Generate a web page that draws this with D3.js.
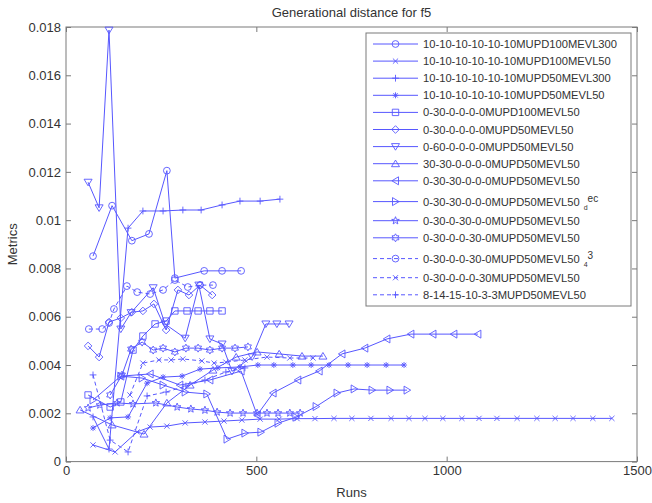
<!DOCTYPE html>
<html><head><meta charset="utf-8">
<script src="https://cdn.jsdelivr.net/npm/d3@7"></script>
<style>body{margin:0;background:#fff}svg{display:block}text{font-family:"Liberation Sans",Arial,sans-serif}</style>
</head><body>
<svg id="c" width="652" height="503"></svg>
<script>
const titleText = "Generational distance for f5";
const xLabel = "Runs";
const yLabel = "Metrics";
const xTicks = [0, 500, 1000, 1500];
const xTickLabels = ["0", "500", "1000", "1500"];
const yTicks = [0, 0.002, 0.004, 0.006, 0.008, 0.01, 0.012, 0.014, 0.016, 0.018];
const yTickLabels = ["0", "0.002", "0.004", "0.006", "0.008", "0.01", "0.012", "0.014", "0.016", "0.018"];

const seriesNames = [
  "10-10-10-10-10-10MUPD100MEVL300",
  "10-10-10-10-10-10MUPD100MEVL50",
  "10-10-10-10-10-10MUPD50MEVL300",
  "10-10-10-10-10-10MUPD50MEVL50",
  "0-30-0-0-0-0MUPD100MEVL50",
  "0-30-0-0-0-0MUPD50MEVL50",
  "0-60-0-0-0-0MUPD50MEVL50",
  "30-30-0-0-0-0MUPD50MEVL50",
  "0-30-30-0-0-0MUPD50MEVL50",
  "0-30-30-0-0-0MUPD50MEVL50",
  "0-30-0-30-0-0MUPD50MEVL50",
  "0-30-0-0-30-0MUPD50MEVL50",
  "0-30-0-0-30-0MUPD50MEVL50",
  "0-30-0-0-0-30MUPD50MEVL50",
  "8-14-15-10-3-3MUPD50MEVL50"
];
const seriesSub = ["", "", "", "", "", "", "", "", "", "d", "", "", "4", "", ""];
const seriesSup = ["", "", "", "", "", "", "", "", "", "ec", "", "", "3", "", ""];
const seriesMarkers = ["o", "x", "+", "*", "s", "d", "v", "^", "<", ">", "p", "h", "o", "x", "+"];
const seriesDashed = [false, false, false, false, false, false, false, false, false, false, false, false, true, true, true];

const runs1 = [71, 121, 173, 218, 265, 286, 363, 410, 460];
const vals1 = [0.00851, 0.0106, 0.00915, 0.00943, 0.01205, 0.0076, 0.0079, 0.0079, 0.0079];
const runs2 = [71, 129, 187, 221, 265, 313, 365, 415, 462, 510, 560, 607, 654, 704, 751, 801, 854, 901, 943, 990, 1040, 1085, 1132, 1185, 1237, 1285, 1332, 1384, 1434];
const vals2 = [0.00069, 0.0004, 0.00123, 0.00143, 0.00147, 0.0016, 0.00164, 0.00168, 0.00172, 0.00176, 0.00176, 0.00178, 0.00178, 0.00179, 0.00179, 0.00179, 0.00179, 0.00179, 0.00179, 0.00179, 0.00179, 0.00179, 0.00179, 0.00179, 0.00179, 0.00179, 0.00179, 0.00179, 0.00179];
const runs3 = [71, 113, 163, 202, 255, 307, 355, 410, 457, 510, 562];
const vals3 = [0.00185, 0.00052, 0.00967, 0.01038, 0.01038, 0.01042, 0.01042, 0.01063, 0.01079, 0.01079, 0.01087];
const runs4 = [71, 116, 163, 213, 255, 305, 352, 399, 457, 504, 546, 596, 644, 691, 741, 791, 841, 888];
const vals4 = [0.00139, 0.00181, 0.00185, 0.00325, 0.0035, 0.00354, 0.00383, 0.00388, 0.00392, 0.004, 0.004, 0.004, 0.004, 0.004, 0.004, 0.004, 0.004, 0.004];
const runs5 = [58, 116, 144, 176, 202, 234, 263, 286, 318, 347, 378, 410];
const vals5 = [0.00276, 0.00226, 0.00247, 0.00462, 0.0052, 0.0057, 0.00582, 0.00624, 0.00624, 0.00624, 0.00624, 0.00624];
const runs6 = [58, 87, 113, 144, 173, 202, 231, 263, 294, 323, 352, 384];
const vals6 = [0.00479, 0.00433, 0.00578, 0.00595, 0.00619, 0.00624, 0.00653, 0.00545, 0.00711, 0.0069, 0.00731, 0.0069];
const runs7 = [58, 87, 113, 144, 171, 229, 260, 313, 349, 378, 410, 436, 489, 525, 554, 586];
const vals7 = [0.01157, 0.01051, 0.01787, 0.00549, 0.00617, 0.0072, 0.0057, 0.00511, 0.00731, 0.00508, 0.00487, 0.00374, 0.00434, 0.0057, 0.0057, 0.0057];
const runs8 = [37, 121, 205, 265, 326, 386, 447, 502, 560, 620, 675];
const vals8 = [0.00214, 0.00152, 0.00114, 0.00243, 0.00317, 0.00379, 0.00433, 0.00454, 0.00446, 0.00437, 0.00437];
const runs9 = [144, 221, 299, 378, 460, 502, 544, 609, 665, 725, 785, 843, 906, 964, 1019, 1082];
const vals9 = [0.00354, 0.00363, 0.00317, 0.00338, 0.00375, 0.00193, 0.00284, 0.00338, 0.00375, 0.00446, 0.0047, 0.00508, 0.00528, 0.00528, 0.00528, 0.00528];
const runs10 = [71, 144, 200, 255, 313, 370, 423, 470, 512, 557, 604, 657, 712, 757, 804, 851, 896];
const vals10 = [0.00255, 0.00354, 0.00346, 0.00317, 0.00288, 0.0028, 0.00093, 0.00118, 0.00122, 0.00159, 0.00184, 0.00228, 0.00284, 0.00301, 0.00296, 0.00296, 0.00296];
const runs11 = [58, 89, 134, 176, 236, 292, 328, 365, 397, 431, 465, 502, 528, 557, 588, 615];
const vals11 = [0.00222, 0.00234, 0.00243, 0.00239, 0.00243, 0.00226, 0.00218, 0.00213, 0.00205, 0.00201, 0.00201, 0.00201, 0.00201, 0.00201, 0.00201, 0.00201];
const runs12 = [116, 147, 171, 200, 229, 255, 286, 315, 347, 378, 410, 444, 478];
const vals12 = [0.00276, 0.00358, 0.00466, 0.00495, 0.00462, 0.0047, 0.00454, 0.0047, 0.0047, 0.00462, 0.0047, 0.0047, 0.00475];
const runs13 = [60, 95, 113, 126, 160, 187, 221, 255, 286, 320, 352, 386];
const vals13 = [0.00549, 0.00549, 0.00574, 0.00632, 0.00727, 0.00702, 0.00694, 0.00711, 0.00752, 0.00723, 0.00731, 0.00731];
const runs14 = [168, 202, 244, 276, 307, 357, 389, 420, 470, 528, 588, 649];
const vals14 = [0.00276, 0.00408, 0.00421, 0.00421, 0.00425, 0.00417, 0.00408, 0.00412, 0.00421, 0.00433, 0.00429, 0.00429];
const runs15 = [71, 116, 163, 213, 263, 315, 365, 420, 470];
const vals15 = [0.00359, 0.00089, 0.0004, 0.00272, 0.00288, 0.00313, 0.00338, 0.00371, 0.00388];

const allRuns = [runs1, runs2, runs3, runs4, runs5, runs6, runs7, runs8, runs9, runs10, runs11, runs12, runs13, runs14, runs15];
const allVals = [vals1, vals2, vals3, vals4, vals5, vals6, vals7, vals8, vals9, vals10, vals11, vals12, vals13, vals14, vals15];

const series = seriesNames.map((name, i) => ({
  name, sub: seriesSub[i], sup: seriesSup[i], marker: seriesMarkers[i], dashed: seriesDashed[i],
  points: allRuns[i].map((r, j) => ({ x: r, y: allVals[i][j] }))
}));

const color = "#5757ff";
const axisColor = "#7a7a7a";
const textColor = "#333";
const L = 66, R = 637, T = 27, B = 461.6;

const svg = d3.select("#c");
const x = d3.scaleLinear().domain([0, 1500]).range([L, R]);
const y = d3.scaleLinear().domain([0, 0.018]).range([B, T]);

function markerPath(t) {
  const p = d3.path();
  if (t === "o") { p.moveTo(3.4, 0); p.arc(0, 0, 3.4, 0, 2 * Math.PI); }
  else if (t === "x") { const s = 2.6; p.moveTo(-s, -s); p.lineTo(s, s); p.moveTo(-s, s); p.lineTo(s, -s); }
  else if (t === "+") { const s = 3.4; p.moveTo(-s, 0); p.lineTo(s, 0); p.moveTo(0, -s); p.lineTo(0, s); }
  else if (t === "*") { const s = 3, d = 2.2; p.moveTo(-s, 0); p.lineTo(s, 0); p.moveTo(0, -s); p.lineTo(0, s); p.moveTo(-d, -d); p.lineTo(d, d); p.moveTo(-d, d); p.lineTo(d, -d); }
  else if (t === "s") { p.rect(-3.2, -3.2, 6.4, 6.4); }
  else if (t === "d") { const s = 3.8; p.moveTo(0, -s); p.lineTo(s, 0); p.lineTo(0, s); p.lineTo(-s, 0); p.closePath(); }
  else if (t === "v") { p.moveTo(-4, -3); p.lineTo(4, -3); p.lineTo(0, 3.6); p.closePath(); }
  else if (t === "^") { p.moveTo(-4, 3); p.lineTo(4, 3); p.lineTo(0, -3.6); p.closePath(); }
  else if (t === "<") { p.moveTo(3, -4); p.lineTo(3, 4); p.lineTo(-3.6, 0); p.closePath(); }
  else if (t === ">") { p.moveTo(-3, -4); p.lineTo(-3, 4); p.lineTo(3.6, 0); p.closePath(); }
  else if (t === "p" || t === "h") {
    const n = t === "p" ? 5 : 6, ro = 4, ri = t === "p" ? 1.7 : 2.3;
    for (let k = 0; k < 2 * n; k++) {
      const a = -Math.PI / 2 + k * Math.PI / n, r = k % 2 ? ri : ro;
      const px = r * Math.cos(a), py = r * Math.sin(a);
      if (k === 0) p.moveTo(px, py); else p.lineTo(px, py);
    }
    p.closePath();
  }
  return p.toString();
}

// axes box
svg.append("rect").attr("x", L).attr("y", T).attr("width", R - L).attr("height", B - T)
  .attr("fill", "#fff").attr("stroke", axisColor).attr("stroke-width", 1);

const gx = svg.append("g").attr("transform", `translate(0,${B})`)
  .call(d3.axisBottom(x).tickValues(xTicks).tickFormat((d, i) => xTickLabels[i]).tickSizeInner(-5).tickSizeOuter(0).tickPadding(4));
const gxt = svg.append("g").attr("transform", `translate(0,${T})`)
  .call(d3.axisTop(x).tickValues(xTicks).tickFormat("").tickSizeInner(-5).tickSizeOuter(0));
const gy = svg.append("g").attr("transform", `translate(${L},0)`)
  .call(d3.axisLeft(y).tickValues(yTicks).tickFormat((d, i) => yTickLabels[i]).tickSizeInner(-5).tickSizeOuter(0).tickPadding(5));
const gyr = svg.append("g").attr("transform", `translate(${R},0)`)
  .call(d3.axisRight(y).tickValues(yTicks).tickFormat("").tickSizeInner(-5).tickSizeOuter(0));
[gx, gxt, gy, gyr].forEach(g => {
  g.select(".domain").remove();
  g.selectAll(".tick line").attr("stroke", axisColor);
  g.selectAll("text").attr("fill", textColor).style("font-size", "13px").style("font-family", '"Liberation Sans",Arial,sans-serif');
});

// series
const line = d3.line().x(d => x(d.x)).y(d => y(d.y));
const gs = svg.append("g");
series.forEach(s => {
  gs.append("path").attr("d", line(s.points)).attr("fill", "none").attr("stroke", color)
    .attr("stroke-width", 1).attr("stroke-dasharray", s.dashed ? "4,3" : null);
  gs.selectAll(null).data(s.points).enter().append("path")
    .attr("d", markerPath(s.marker)).attr("transform", d => `translate(${x(d.x)},${y(d.y)})`)
    .attr("fill", "none").attr("stroke", color).attr("stroke-width", 0.9);
});

// title & labels
svg.append("text").attr("x", (L + R) / 2).attr("y", 17).attr("text-anchor", "middle")
  .attr("fill", textColor).style("font-size", "13px").text(titleText);
svg.append("text").attr("x", (L + R) / 2).attr("y", 497).attr("text-anchor", "middle")
  .attr("fill", textColor).style("font-size", "13px").text(xLabel);
svg.append("text").attr("transform", `translate(17,${(T + B) / 2}) rotate(-90)`).attr("text-anchor", "middle")
  .attr("fill", textColor).style("font-size", "13px").text(yLabel);

// legend
const lg = svg.append("g");
const rowYs = [];
let yy = 44;
series.forEach((s, i) => {
  if (i > 0) {
    yy += 17.1;
    if (s.sub || s.sup) yy += 3.7;
    if (series[i - 1].sub || series[i - 1].sup) yy += 2;
  }
  rowYs.push(yy);
});
lg.append("rect").attr("x", 366).attr("y", 33).attr("width", 265).attr("height", 273)
  .attr("fill", "#fff").attr("stroke", axisColor).attr("stroke-width", 1);
series.forEach((s, i) => {
  const ry = rowYs[i];
  lg.append("line").attr("x1", 373).attr("x2", 418).attr("y1", ry).attr("y2", ry)
    .attr("stroke", color).attr("stroke-width", 1).attr("stroke-dasharray", s.dashed ? "4,3" : null);
  lg.append("path").attr("d", markerPath(s.marker)).attr("transform", `translate(395.5,${ry})`)
    .attr("fill", "none").attr("stroke", color).attr("stroke-width", 0.9);
  const t = lg.append("text").attr("x", 423).attr("y", ry + 4).attr("fill", textColor)
    .style("font-size", "11.2px").text(s.name);
  if (s.sub) t.append("tspan").attr("dx", 4).attr("dy", 4).style("font-size", "7px").text(s.sub);
  if (s.sup) t.append("tspan").attr("dx", 0).attr("dy", -8).style("font-size", "10px").text(s.sup);
});
</script>
</body></html>
